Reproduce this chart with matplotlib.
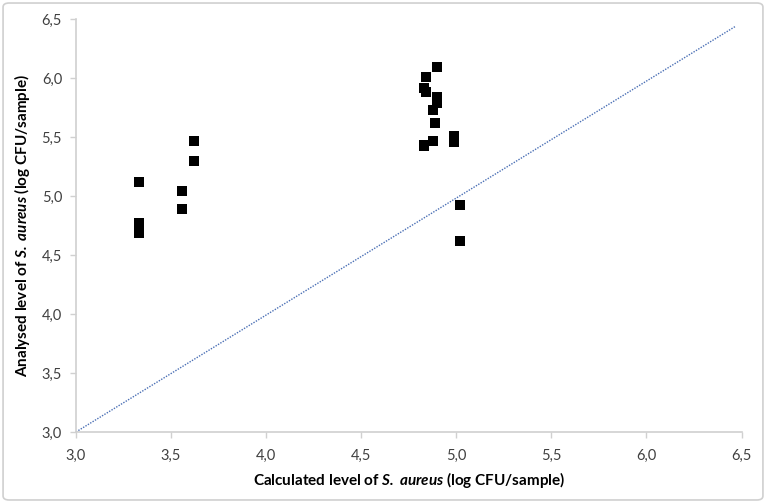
import matplotlib
matplotlib.use("Agg")
import matplotlib.pyplot as plt
from matplotlib.ticker import FuncFormatter
from matplotlib.patches import FancyBboxPatch

plt.rcParams['font.family'] = ['Lato', 'DejaVu Sans']
plt.rcParams['mathtext.fontset'] = 'custom'
plt.rcParams['mathtext.bfit'] = 'Lato:italic:bold'
plt.rcParams['mathtext.it'] = 'Lato:italic'
plt.rcParams['mathtext.rm'] = 'Lato'

# Data: calculated vs analysed level (log CFU/sample)
calculated = [3.33, 3.33, 3.33, 3.33, 3.56, 3.56, 3.62, 3.62,
              4.90, 4.84, 4.83, 4.84, 4.90, 4.90, 4.88, 4.89, 4.88, 4.83, 4.83,
              4.99, 4.99, 5.02, 5.02]
analysed = [5.12, 4.77, 4.73, 4.69, 5.04, 4.89, 5.47, 5.30,
            6.09, 6.005, 5.915, 5.88, 5.84, 5.79, 5.73, 5.62, 5.47, 5.43, 5.42,
            5.51, 5.46, 4.92, 4.62]
line_x = [3.0, 6.47]
line_y = [3.0, 6.44]
x_ticks = [3.0, 3.5, 4.0, 4.5, 5.0, 5.5, 6.0, 6.5]
y_ticks = [3.0, 3.5, 4.0, 4.5, 5.0, 5.5, 6.0, 6.5]

fig = plt.figure(figsize=(7.66, 5.03), dpi=100)
ax = fig.add_axes([0.0992, 0.1412, 0.8689, 0.8210])

ax.plot(line_x, line_y, linestyle=(0, (1, 1)), color='#4a6fb5', linewidth=1.0, zorder=1)
ax.plot(calculated, analysed, linestyle='none', marker='s', markersize=7.2,
        color='black', markeredgewidth=0, zorder=2)

ax.set_xlim(3.0, 6.5)
ax.set_ylim(3.0, 6.5)
ax.set_xticks(x_ticks)
ax.set_yticks(y_ticks)
fmt = FuncFormatter(lambda v, p: f"{v:.1f}".replace('.', ','))
ax.xaxis.set_major_formatter(fmt)
ax.yaxis.set_major_formatter(fmt)

for s in ['top', 'right']:
    ax.spines[s].set_visible(False)
for s in ['left', 'bottom']:
    ax.spines[s].set_color('#d0d0d0')
    ax.spines[s].set_linewidth(1.2)
ax.tick_params(axis='both', direction='out', length=4, width=1, color='#d0d0d0',
               labelsize=10.5, labelcolor='#404040')
ax.tick_params(axis='x', pad=8)
ax.tick_params(axis='y', pad=6)

ax.set_xlabel(r'Calculated level of $\mathbfit{S.\;aureus}$ (log CFU/sample)',
              fontsize=11, fontweight='bold', labelpad=5)
ax.set_ylabel(r'Analysed level of $\mathbfit{S.\;aureus}$ (log CFU/sample)',
              fontsize=11, fontweight='bold', labelpad=7)

border = FancyBboxPatch((0.004, 0.006), 0.992, 0.988,
                        boxstyle="round,pad=0,rounding_size=0.008",
                        transform=fig.transFigure, fill=False,
                        edgecolor='#d0d0d0', linewidth=1.2)
fig.patches.append(border)

fig.savefig('out.png', dpi=100)
